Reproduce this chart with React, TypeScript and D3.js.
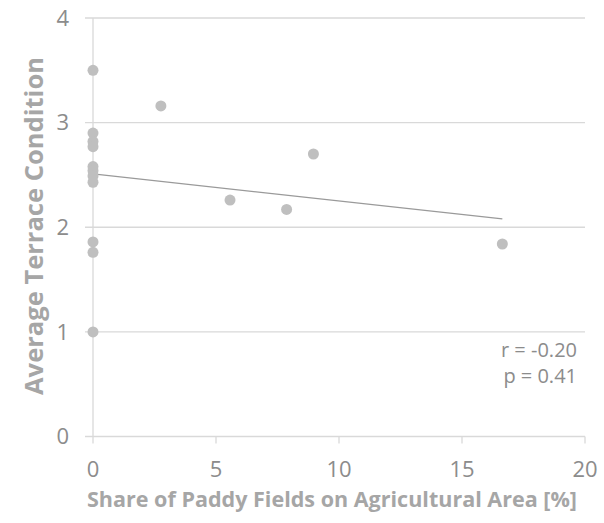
import React from "react";
import * as d3 from "d3";

const pointX = [0, 0, 0, 0, 0, 0, 0, 0, 0, 0, 0, 2.76, 5.57, 7.87, 8.96, 16.64];
const pointY = [3.5, 2.9, 2.82, 2.77, 2.58, 2.54, 2.49, 2.43, 1.86, 1.76, 1.0, 3.16, 2.26, 2.17, 2.7, 1.84];
const trendX = [0, 16.64];
const trendY = [2.51, 2.08];
const xTicks = [0, 5, 10, 15, 20];
const yTicks = [0, 1, 2, 3, 4];
const statLines = ["r = -0.20", "p = 0.41"];

const W = 604, H = 523;
const FONT = "'Open Sans', 'Liberation Sans', sans-serif";

export default function App() {
  const x = d3.scaleLinear().domain([0, 20]).range([93, 585]);
  const y = d3.scaleLinear().domain([0, 4]).range([436.5, 18]);
  const line = d3.line<number>().x((_, i) => x(trendX[i])).y((d) => y(d));
  const grid = "#d9d9d9";
  const tickColor = "#8c8c8c";
  return (
    <svg width={W} height={H} style={{ position: "absolute", left: 0, top: 0, background: "#fff" }}>
      {yTicks.map((t) => (
        <g key={"y" + t}>
          <line x1={85} x2={585} y1={y(t)} y2={y(t)} stroke={grid} strokeWidth={1.3} />
          <text x={69} y={y(t)} dy="0.35em" textAnchor="end" fontFamily={FONT} fontSize={22} fill={tickColor}>{t}</text>
        </g>
      ))}
      <line x1={x(0)} x2={x(0)} y1={y(4)} y2={y(0)} stroke={grid} strokeWidth={1.3} />
      {xTicks.map((t) => (
        <g key={"x" + t}>
          <line x1={x(t)} x2={x(t)} y1={y(0)} y2={y(0) + 7} stroke={grid} strokeWidth={1.3} />
          <text x={x(t)} y={469} dy="0.35em" textAnchor="middle" fontFamily={FONT} fontSize={22} fill={tickColor}>{t}</text>
        </g>
      ))}
      <path d={line(trendY) || ""} fill="none" stroke="#9a9a9a" strokeWidth={1.3} />
      {pointX.map((px, i) => (
        <circle key={i} cx={x(px)} cy={y(pointY[i])} r={5.5} fill="#bfbfbf" />
      ))}
      {statLines.map((s, i) => (
        <text key={s} x={577} y={357 + i * 26} textAnchor="end" fontFamily={FONT} fontSize={20} fill={tickColor}>{s}</text>
      ))}
      <text x={332} y={507} textAnchor="middle" fontFamily={FONT} fontSize={21} fontWeight="bold" fill="#a6a6a6" textLength={490} lengthAdjust="spacingAndGlyphs">
        Share of Paddy Fields on Agricultural Area [%]
      </text>
      <text transform="translate(43,226) rotate(-90)" textAnchor="middle" fontFamily={FONT} fontSize={25} fontWeight="bold" fill="#a6a6a6" textLength={338} lengthAdjust="spacingAndGlyphs">
        Average Terrace Condition
      </text>
    </svg>
  );
}
